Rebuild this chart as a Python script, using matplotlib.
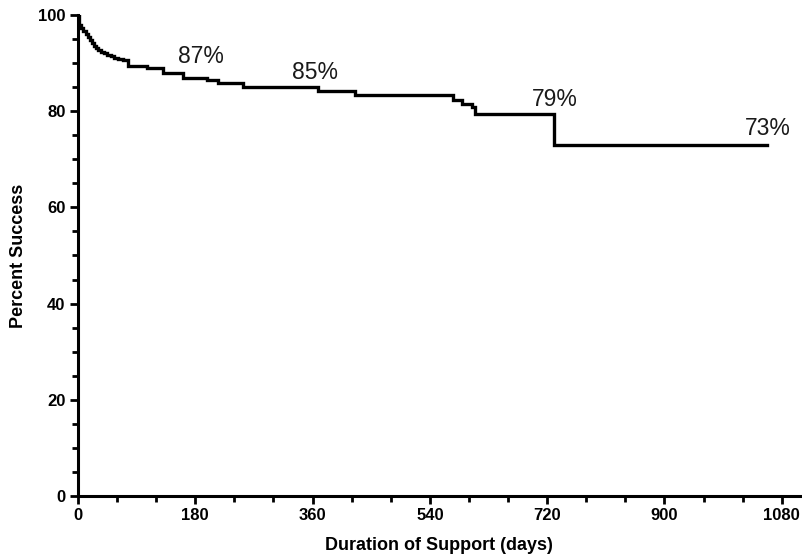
import matplotlib
matplotlib.use('Agg')
import matplotlib.pyplot as plt
from matplotlib.ticker import MultipleLocator

plt.rcParams['font.family'] = ['Liberation Sans', 'DejaVu Sans']

# Kaplan-Meier style step data
days = [0, 1, 4, 8, 12, 15, 18, 21, 24, 27, 31, 35, 40, 45, 50, 55, 62, 69, 77,
        106, 131, 161, 198, 215, 253, 369, 425, 576, 590, 605, 610, 730, 1058]
success = [100, 98.0, 97.2, 96.7, 96.0, 95.5, 94.8, 94.2, 93.6, 93.1, 92.7, 92.4,
           92.0, 91.7, 91.4, 91.1, 90.8, 90.6, 89.3, 88.9, 87.9, 86.8, 86.5, 85.8,
           85.1, 84.2, 83.4, 82.3, 81.6, 80.8, 79.4, 73.0, 73.0]

# annotations
label_text = ['87%', '85%', '79%', '73%']
label_x = [188, 364, 731, 1058]
label_y = [91.3, 88.1, 82.5, 76.3]

fig = plt.figure(figsize=(8.02, 5.60), dpi=100)
ax = fig.add_axes([78 / 802, 64 / 560, 722 / 802, 481 / 560])

ax.plot(days, success, drawstyle='steps-post', color='black', lw=2.4,
        solid_joinstyle='miter')

for t, x, y in zip(label_text, label_x, label_y):
    ax.text(x, y, t, fontsize=16.5, ha='center', va='center', color='#1a1a1a')

ax.set_xlim(0, 1108)
ax.set_ylim(0, 100)
ax.xaxis.set_major_locator(MultipleLocator(180))
ax.xaxis.set_minor_locator(MultipleLocator(60))
ax.yaxis.set_major_locator(MultipleLocator(20))
ax.yaxis.set_minor_locator(MultipleLocator(5))
ax.set_xticks([0, 180, 360, 540, 720, 900, 1080])

for s in ['top', 'right']:
    ax.spines[s].set_visible(False)
for s in ['left', 'bottom']:
    ax.spines[s].set_linewidth(2.2)

ax.tick_params(which='major', length=6, width=2, labelsize=12, pad=3)
ax.tick_params(which='minor', length=4, width=2)
for lab in ax.get_xticklabels() + ax.get_yticklabels():
    lab.set_fontweight('bold')

ax.set_xlabel('Duration of Support (days)', fontsize=13, fontweight='bold', labelpad=10)
ax.set_ylabel('Percent Success', fontsize=13, fontweight='bold', labelpad=8)

fig.savefig('out.png', dpi=100)
